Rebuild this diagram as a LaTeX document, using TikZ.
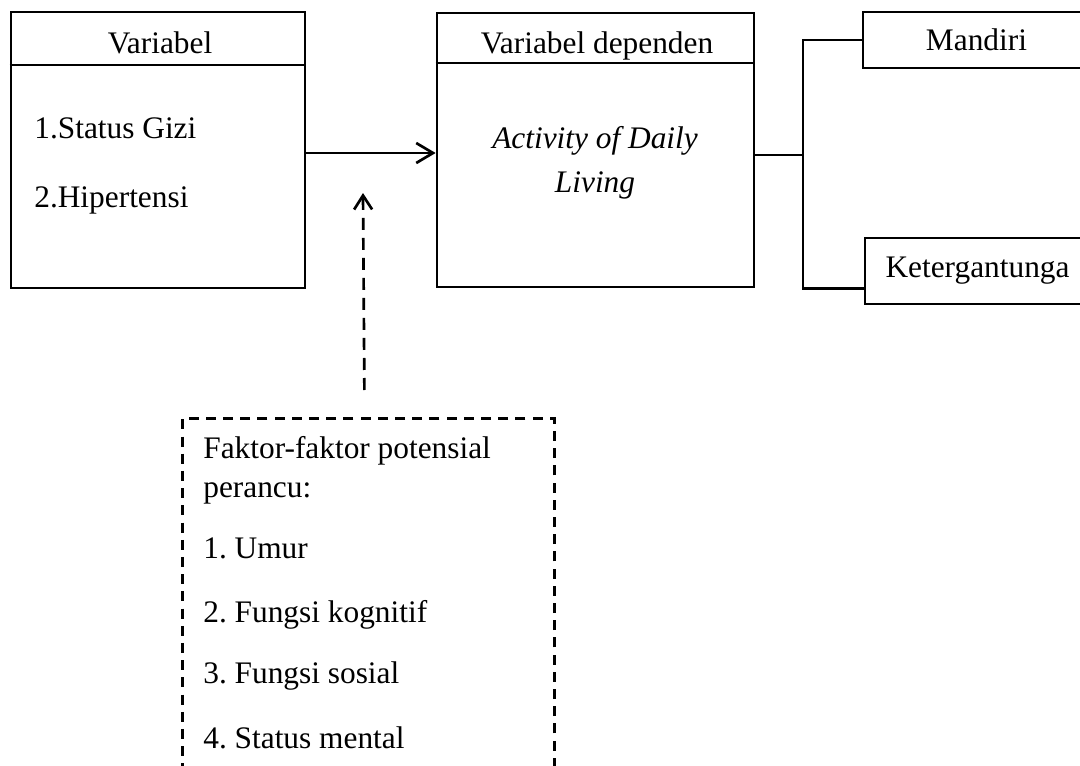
\documentclass[tikz,border=0pt]{standalone}
\usepackage{fontspec}
\setmainfont{Liberation Serif}
\usetikzlibrary{arrows.meta}
\frenchspacing
\begin{document}
\begin{tikzpicture}[x=0.025cm,y=-0.025cm,line width=1.9pt,
  every node/.style={font=\fontsize{22.3}{26}\selectfont}]

\tikzstyle{box}=[draw,rectangle,inner sep=0pt]
\tikzstyle{dash box}=[draw,rectangle,inner sep=0pt,dash pattern=on 0.25cm off 0.18cm]
\tikzstyle{txt}=[anchor=base west,inner sep=0pt]
\tikzstyle{ctxt}=[anchor=base,inner sep=0pt]

\useasboundingbox (0,0) rectangle (1080,765);

% boxes
\node[box,minimum width=7.35cm,minimum height=6.9cm] (indep) at (158,150) {};
\node[box,minimum width=7.925cm,minimum height=6.85cm] (dep) at (595.5,150) {};
\node[box,minimum width=5.675cm,minimum height=1.4cm] (mandiri) at (976.5,40) {Mandiri};
\node[box,minimum width=5.625cm,minimum height=1.65cm] (ketergantungan) at (977.5,271) {Ketergantunga};
\node[dash box,minimum width=9.3cm,minimum height=9.325cm,anchor=north west] (faktor) at (181,417) {};

% header lines
\draw (indep.west |- 0,65) -- (indep.east |- 0,65);
\draw (dep.west |- 0,63) -- (dep.east |- 0,63);

% texts
\node[ctxt] (var) at (160,53) {Variabel};
\node[txt] (gizi) at (33,138) {1.Status Gizi};
\node[txt] (hiper) at (33,207) {2.Hipertensi};
\node[ctxt] (vardep) at (597,53) {Variabel dependen};
\node[ctxt] (adl1) at (595,148) {\itshape Activity of Daily};
\node[ctxt] (adl2) at (595,192) {\itshape Living};
\node[txt] (f0) at (202,458) {Faktor-faktor potensial};
\node[txt] (f1) at (202,497) {perancu:};
\node[txt] (f2) at (202,558) {1. Umur};
\node[txt] (f3) at (202,622) {2. Fungsi kognitif};
\node[txt] (f4) at (202,683) {3. Fungsi sosial};
\node[txt] (f5) at (202,748) {4. Status mental};

% connectors
\draw[-{Straight Barb[length=0.42cm,width=0.5cm]}] ([yshift=-0.075cm]indep.east) -- ([yshift=-0.075cm]dep.west);
\coordinate (tip) at (363,193);
\draw[dash pattern=on 0.3cm off 0.2cm,-{Straight Barb[length=0.35cm,width=0.45cm]}]
  ([xshift=-0.1cm,yshift=0.675cm]faktor.north) -- (tip);
\coordinate (fork) at (803,155);
\draw (dep.east |- fork) -- (fork);
\draw (mandiri.west) -| (fork);
\draw ([yshift=0.425cm]ketergantungan.south west) -| (fork);

\end{tikzpicture}
\end{document}
